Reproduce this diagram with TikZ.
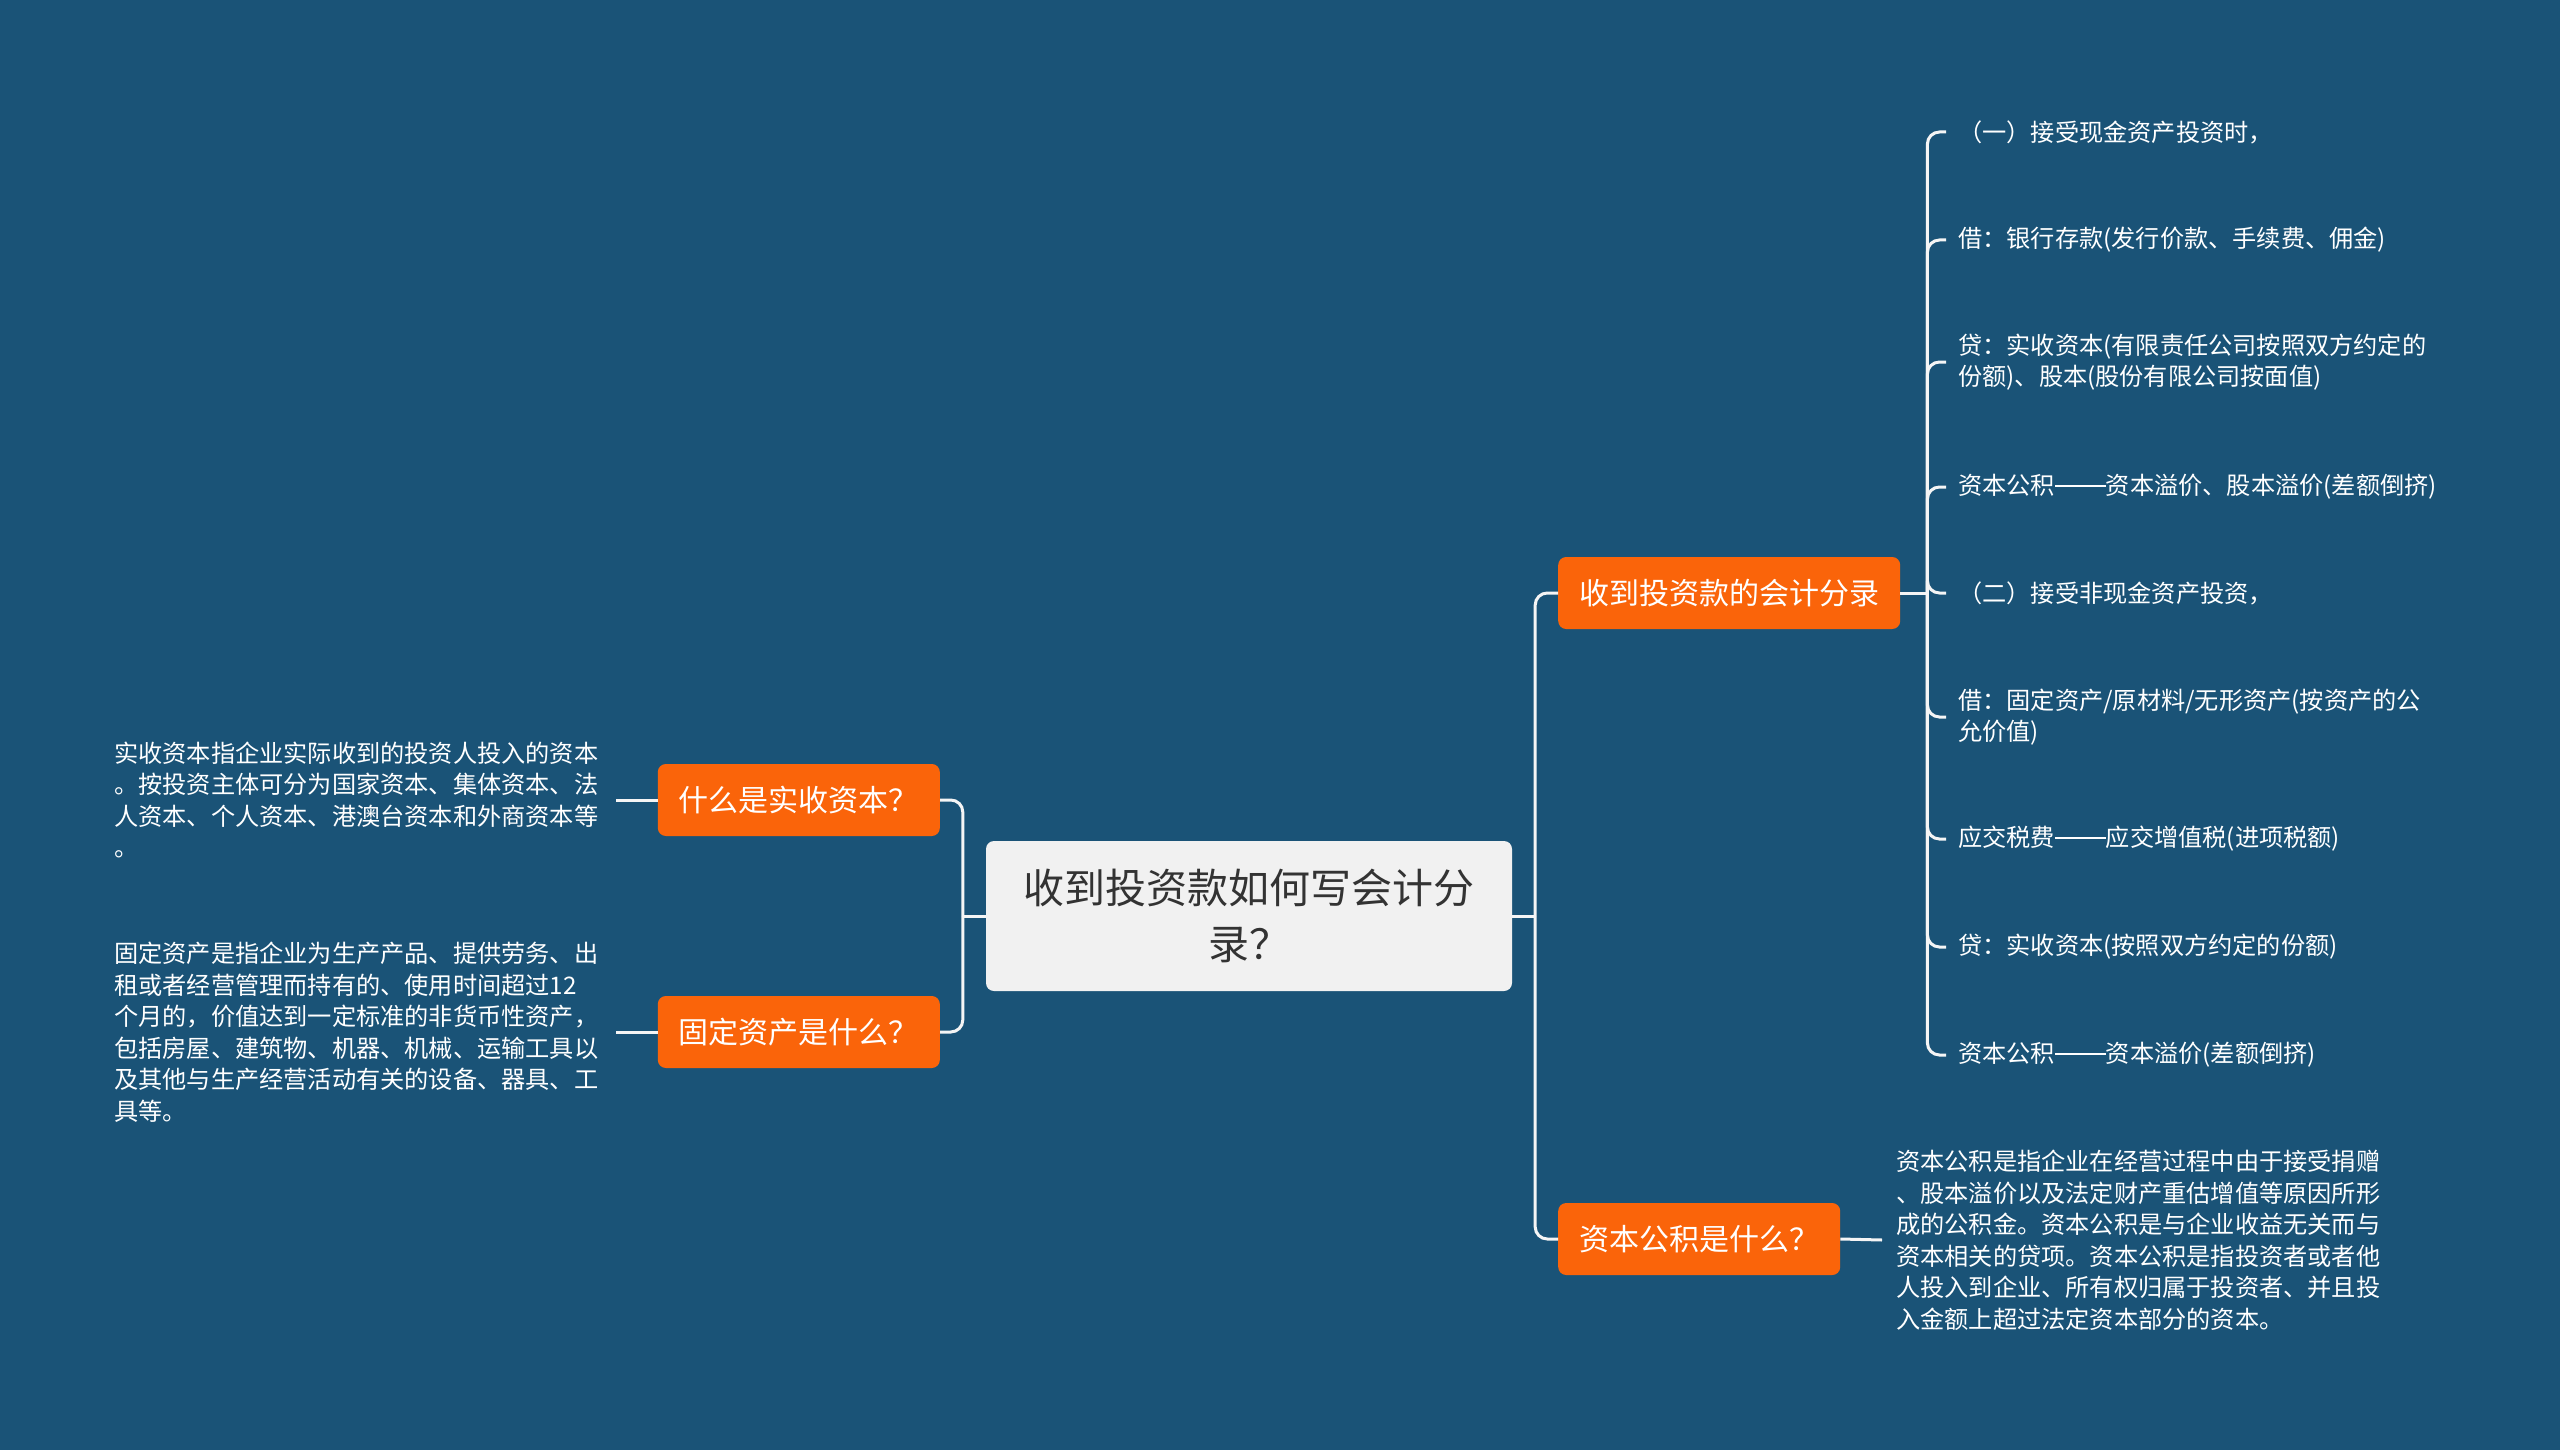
\documentclass[tikz,border=0pt]{standalone}
\usepackage{fontspec}
\newfontfamily\cjk{Noto Sans CJK SC}
\newcommand\longdash{\raisebox{0.34em}{\rule{2.1em}{0.055em}}}
\definecolor{bgblue}{RGB}{26,83,119}
\definecolor{orangebox}{RGB}{250,100,10}
\definecolor{centerfill}{RGB}{241,241,241}
\definecolor{centertext}{RGB}{51,51,51}
\definecolor{linecol}{RGB}{245,245,245}
\tikzset{
  centerbox/.style={fill=centerfill, rounded corners=8pt, minimum width=526pt, minimum height=150pt,
    align=center, text=centertext, font=\cjk\fontsize{41}{56}\selectfont, inner sep=0pt},
  topicbox/.style={fill=orangebox, rounded corners=8pt, text=white, minimum height=72pt,
    inner xsep=21pt, inner ysep=0pt, font=\cjk\fontsize{30}{36}\selectfont},
  leafbox/.style={anchor=west, inner xsep=12pt, inner ysep=0pt, text=white, align=left,
    font=\cjk\fontsize{24.2}{31.5}\selectfont},
  notebox/.style={inner xsep=12pt, inner ysep=0pt, text=white, align=left,
    font=\cjk\fontsize{24.2}{31.5}\selectfont},
  conn/.style={draw=linecol, line width=3pt, rounded corners=12pt},
}
\begin{document}
\begin{tikzpicture}[x=1pt,y=-1pt]
\fill[bgblue] (0,0) rectangle (2560,1450);
\useasboundingbox (0,0) rectangle (2560,1450);

% central node
\node[centerbox] (c) at (1249,916) {收到投资款如何写会计分\\录？};

% left topics
\node[topicbox, anchor=east] (l1) at (940,800) {什么是实收资本？};
\node[topicbox, anchor=east] (l2) at (940,1032) {固定资产是什么？};

% right topics
\node[topicbox, anchor=west] (r1) at (1558,593) {收到投资款的会计分录};
\node[topicbox, anchor=west] (r2) at (1558,1239) {资本公积是什么？};

% left notes
\node[notebox, anchor=west, text width=492pt, inner xsep=10pt] (t1) at (104,800)
  {实收资本指企业实际收到的投资人投入的资本\\。按投资主体可分为国家资本、集体资本、法\\人资本、个人资本、港澳台资本和外商资本等\\。};
\node[notebox, anchor=west, text width=492pt, inner xsep=10pt] (t2) at (104,1032)
  {固定资产是指企业为生产产品、提供劳务、出\\租或者经营管理而持有的、使用时间超过12\\个月的，价值达到一定标准的非货币性资产，\\包括房屋、建筑物、机器、机械、运输工具以\\及其他与生产经营活动有关的设备、器具、工\\具等。};

% right note
\node[notebox, anchor=west, inner xsep=14pt] (t3) at (1882,1240)
  {资本公积是指企业在经营过程中由于接受捐赠\\、股本溢价以及法定财产重估增值等原因所形\\成的公积金。资本公积是与企业收益无关而与\\资本相关的贷项。资本公积是指投资者或者他\\人投入到企业、所有权归属于投资者、并且投\\入金额上超过法定资本部分的资本。};

% leaves
\node[leafbox] (a1) at (1946,132) {（一）接受现金资产投资时，};
\node[leafbox] (a2) at (1946,240) {借：银行存款(发行价款、手续费、佣金)};
\node[leafbox] (a3) at (1946,362) {贷：实收资本(有限责任公司按照双方约定的\\份额)、股本(股份有限公司按面值)};
\node[leafbox] (a4) at (1946,487) {资本公积\longdash 资本溢价、股本溢价(差额倒挤)};
\node[leafbox] (a5) at (1946,593) {（二）接受非现金资产投资，};
\node[leafbox] (a6) at (1946,717) {借：固定资产/原材料/无形资产(按资产的公\\允价值)};
\node[leafbox] (a7) at (1946,839) {应交税费\longdash 应交增值税(进项税额)};
\node[leafbox] (a8) at (1946,947) {贷：实收资本(按照双方约定的份额)};
\node[leafbox] (a9) at (1946,1055) {资本公积\longdash 资本溢价(差额倒挤)};

% junctions
\coordinate (jl) at ([xshift=-23pt]c.west);
\coordinate (jr) at ([xshift=23pt]c.east);
\coordinate (jh) at ([xshift=27pt]r1.east);

% connectors
\draw[conn] (c.west) -- (jl);
\draw[conn] (jl) |- (l1.east);
\draw[conn] (jl) |- (l2.east);
\draw[conn] (c.east) -- (jr);
\draw[conn] (jr) |- (r1.west);
\draw[conn] (jr) |- (r2.west);
\draw[conn] (l1.west) -- (t1.east);
\draw[conn] (l2.west) -- (t2.east);
\draw[conn] (r2.east) -- (t3.west);
\draw[conn] (r1.east) -- (jh);
\foreach \n in {a1,a2,a3,a4,a5,a6,a7,a8,a9}{
  \draw[conn] (jh) |- (\n.west);
}
\end{tikzpicture}
\end{document}
